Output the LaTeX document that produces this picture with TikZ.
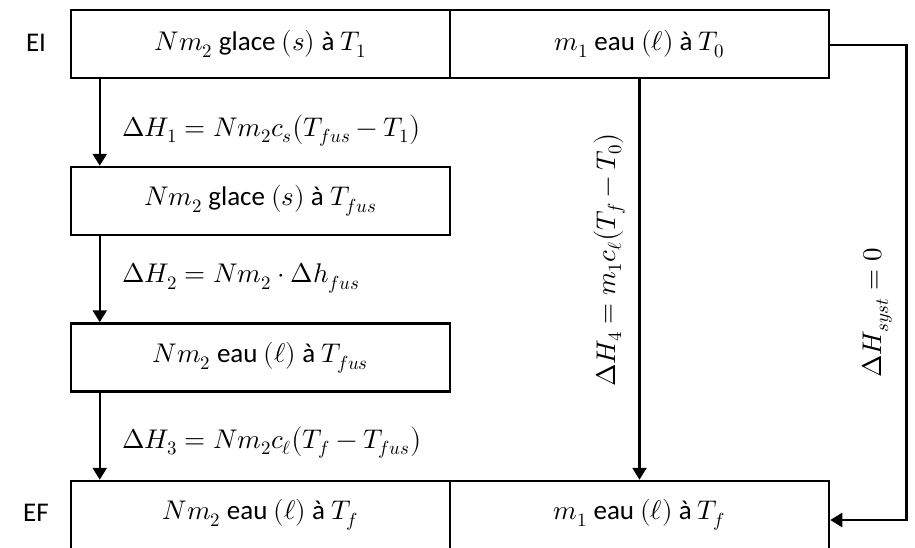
\documentclass[tikz,border=0pt]{standalone}
\usepackage{fontspec}
\usepackage{unicode-math}
\setmainfont{Carlito}
\setmathfont{Latin Modern Math}
\usetikzlibrary{arrows.meta}
\begin{document}
\begin{tikzpicture}[x=1pt,y=-1pt,
  font=\fontsize{27}{32}\selectfont,
  box/.style={draw,line width=2.5pt,rectangle,minimum width=379pt,minimum height=68pt,inner sep=0pt},
  arr/.style={line width=2.5pt,-{Triangle[length=12pt,width=14pt]}},
  lab/.style={inner sep=0pt}]
\useasboundingbox (0,0) rectangle (915,547);
\node[box] (b1) at (260.5,44) {$Nm_2$ glace $(s)$ à $T_1$};
\node[box] (r1) at (639.5,44) {$m_1$ eau $(\ell)$ à $T_0$};
\node[box] (b2) at (260.5,201) {$Nm_2$ glace $(s)$ à $T_{fus}$};
\node[box] (b3) at (260.5,357.5) {$Nm_2$ eau $(\ell)$ à $T_{fus}$};
\node[box] (b4) at (260.5,515) {$Nm_2$ eau $(\ell)$ à $T_f$};
\node[box] (r2) at (639.5,515) {$m_1$ eau $(\ell)$ à $T_f$};
\node[lab] (ei) at (36,43) {EI};
\node[lab] (ef) at (36,513) {EF};
\draw[arr] ([xshift=30pt]b1.south west) -- ([xshift=30pt]b2.north west);
\draw[arr] ([xshift=30pt]b2.south west) -- ([xshift=30pt]b3.north west);
\draw[arr] ([xshift=30pt]b3.south west) -- ([xshift=30pt]b4.north west);
\draw[arr] (r1.south) -- (r2.north);
\draw[arr] ([yshift=-1pt]r1.east) -- ++(76,0) |- ([yshift=-5pt]r2.east);
\node[lab,anchor=west] (l1) at (122,130) {$\Delta H_1 = Nm_2 c_s\bigl(T_{fus}-T_1\bigr)$};
\node[lab,anchor=west] (l2) at (122,278) {$\Delta H_2 = Nm_2\cdot\Delta h_{fus}$};
\node[lab,anchor=west] (l3) at (122,442) {$\Delta H_3 = Nm_2 c_\ell\bigl(T_f-T_{fus}\bigr)$};
\node[lab,rotate=90] (l4) at (609,260) {$\Delta H_4 = m_1 c_\ell\bigl(T_f-T_0\bigr)$};
\node[lab,rotate=90] (l5) at (877,313) {$\Delta H_{syst} = 0$};
\end{tikzpicture}
\end{document}
